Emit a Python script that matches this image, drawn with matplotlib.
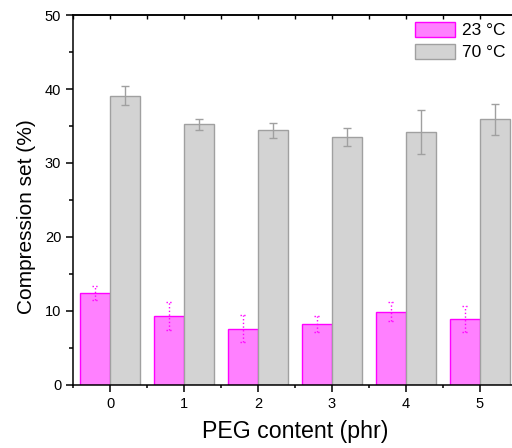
import matplotlib
matplotlib.use("Agg")
import matplotlib.pyplot as plt
from matplotlib.ticker import MultipleLocator
import numpy as np

plt.rcParams["font.family"] = ["Liberation Sans", "DejaVu Sans"]

# compression set data
peg = [0, 1, 2, 3, 4, 5]
cs_23 = [12.4, 9.3, 7.6, 8.2, 9.9, 8.9]
err_23 = [1.0, 1.9, 1.85, 1.1, 1.35, 1.75]
cs_70 = [39.1, 35.2, 34.4, 33.5, 34.2, 35.9]
err_70 = [1.3, 0.8, 1.05, 1.25, 3.0, 2.1]

x = np.array(peg, dtype=float)
w = 0.4

fig = plt.figure(figsize=(5.12, 4.48), dpi=100)
ax = fig.add_axes([0.1426, 0.1413, 0.867, 0.825])

ax.bar(x - w / 2, cs_23, w, color="#ff80ff", edgecolor="#ff00ff", linewidth=1.0,
       label="23 \u00b0C", zorder=2)
ax.bar(x + w / 2, cs_70, w, color="#d3d3d3", edgecolor="#a0a0a0", linewidth=1.0,
       label="70 \u00b0C", zorder=2)

# dotted magenta error bars with dotted caps
eb = ax.errorbar(x - w / 2, cs_23, yerr=err_23, fmt="none", ecolor="#ff00ff",
                 elinewidth=1.0, capsize=0, zorder=3)
eb[2][0].set_linestyle(":")
lo = np.array(cs_23) - np.array(err_23)
hi = np.array(cs_23) + np.array(err_23)
ax.hlines(lo, x - w / 2 - 0.045, x - w / 2 + 0.045, colors="#ff00ff",
          linestyles=":", linewidth=1.0, zorder=3)
ax.hlines(hi, x - w / 2 - 0.045, x - w / 2 + 0.045, colors="#ff00ff",
          linestyles=":", linewidth=1.0, zorder=3)

ax.errorbar(x + w / 2, cs_70, yerr=err_70, fmt="none", ecolor="#a0a0a0",
            elinewidth=1.0, capsize=3.2, capthick=1.0, zorder=3)

ax.set_xlim(-0.5, 5.5)
ax.set_ylim(0, 50)
ax.set_xticks(peg)
ax.xaxis.set_minor_locator(MultipleLocator(0.5))
ax.yaxis.set_major_locator(MultipleLocator(10))
ax.yaxis.set_minor_locator(MultipleLocator(5))

for s in ["left", "bottom", "top"]:
    ax.spines[s].set_linewidth(1.1)
ax.spines["right"].set_visible(False)

ax.tick_params(axis="both", which="major", direction="out", length=5, width=1.1,
               labelsize=10.5)
ax.tick_params(axis="both", which="minor", direction="out", length=3, width=1.1)
ax.tick_params(axis="x", which="minor", length=2)

# ticks on the top spine point inward
sec = ax.secondary_xaxis("top")
sec.set_xticks(peg)
sec.xaxis.set_minor_locator(MultipleLocator(0.5))
sec.tick_params(which="both", direction="in", length=3, width=1.0, labeltop=False)
sec.spines["top"].set_linewidth(1.1)

ax.set_xlabel("PEG content (phr)", fontsize=16.7, labelpad=7)
ax.set_ylabel("Compression set (%)", fontsize=15)
ax.yaxis.set_label_coords(-0.083, 0.454)

ax.legend(loc="upper right", bbox_to_anchor=(505 / 512, 1 - 22 / 448),
          bbox_transform=fig.transFigure, frameon=False, fontsize=12.5,
          handlelength=2.3, handleheight=0.95, labelspacing=0.3,
          handletextpad=0.35, borderaxespad=0, borderpad=0)

fig.savefig("out.png", dpi=100)
